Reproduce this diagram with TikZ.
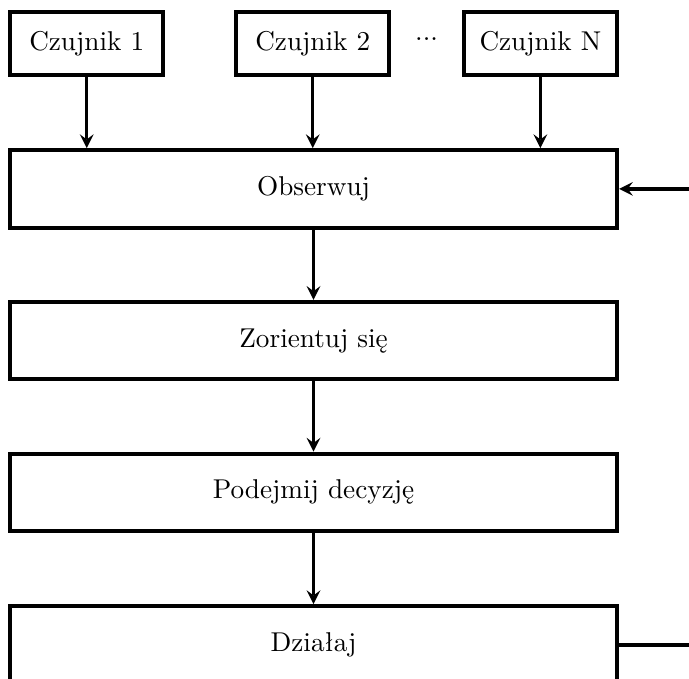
\documentclass[tikz,border=0pt]{standalone}
\usetikzlibrary{arrows,positioning,calc}

\tikzset{
    sensor/.style={draw, line width=1.5pt, minimum width=1.98cm, minimum height=0.81cm},
    phase/.style={draw, line width=1.5pt, minimum width=7.84cm, minimum height=1cm},
    flow/.style={->, >=stealth, very thick}
}

\begin{document}
\begin{tikzpicture}[x=1cm, y=1cm]
        \clip (0,0) rectangle (8.90,-8.76);
        % Sensors
        \node [sensor] (czujnik1) at (1.12,-0.56) {Czujnik 1};
        \node [sensor] (czujnik2) at (4.04,-0.56) {Czujnik 2};
        \node [sensor] (czujnikN) at (6.98,-0.56) {Czujnik N};
        \node (kropki) at (5.51,-0.50) {...};
        % OODA loop
        \node [phase] (obserwuj)  at (4.05,-2.44) {Obserwuj};
        \node [phase] (zorientuj) at (4.05,-4.40) {Zorientuj się};
        \node [phase] (podejmij)  at (4.05,-6.36) {Podejmij decyzję};
        \node [phase] (dzialaj)   at (4.05,-8.33) {Działaj};
        % Feedback ends
        \coordinate (wejscie) at (9.3,-2.44);
        \coordinate (wyjscie) at (9.3,-8.33);
        % Arrows
        \draw [flow] (czujnik1) -- (czujnik1 |- obserwuj.north);
        \draw [flow] (czujnik2) -- (czujnik2 |- obserwuj.north);
        \draw [flow] (czujnikN) -- (czujnikN |- obserwuj.north);
        \draw [flow] (obserwuj) -- (zorientuj);
        \draw [flow] (zorientuj) -- (podejmij);
        \draw [flow] (podejmij) -- (dzialaj);
        \draw [flow] (wejscie) -- (obserwuj);
        \draw [very thick] (dzialaj) -- (wyjscie);
\end{tikzpicture}
\end{document}
